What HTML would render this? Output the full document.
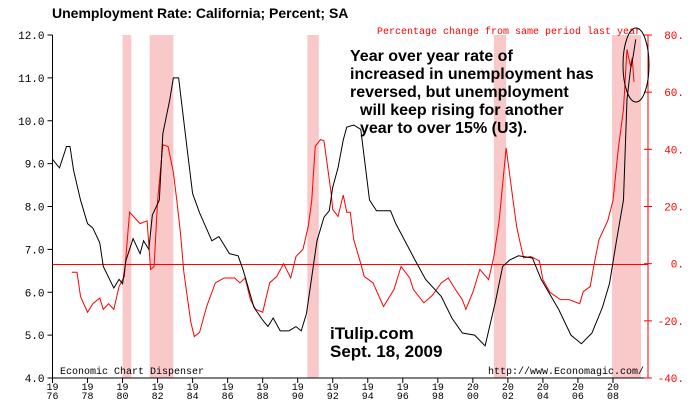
<!DOCTYPE html>
<html><head><meta charset="utf-8">
<style>
html,body{margin:0;padding:0;background:#fff;}
svg{display:block;}
.mono{font-family:"Liberation Mono","DejaVu Sans Mono",monospace;}
.sans{font-family:"Liberation Sans","DejaVu Sans",sans-serif;}
</style></head>
<body>
<svg id="chart" width="700" height="400" viewBox="0 0 700 400" xmlns="http://www.w3.org/2000/svg">
<rect width="700" height="400" fill="#fff"/>
<g id="bands"></g>
<g id="axes"></g>
<g id="series"></g>
<text x="52" y="18" class="sans" font-size="14" font-weight="bold">Unemployment Rate: California; Percent; SA</text>
<text x="377" y="34" class="mono" font-size="10" fill="#f00">Percentage change from same period last year</text>
<g class="sans" font-size="16" font-weight="bold" fill="#000">
<text x="350" y="61">Year over year rate of</text>
<text x="350" y="79">increased in unemployment has</text>
<text x="350" y="97">reversed, but unemployment</text>
<text x="360" y="115">will keep rising for another</text>
<text x="360" y="133">year to over 15% (U3).</text>
</g>
<ellipse cx="636" cy="65" rx="13" ry="37" fill="none" stroke="#000" stroke-width="1"/>
<g class="sans" font-size="17" font-weight="bold">
<text x="330" y="339">iTulip.com</text>
<text x="330" y="357">Sept. 18, 2009</text>
</g>
<text x="60" y="374" class="mono" font-size="10">Economic Chart Dispenser</text>
<text x="488" y="374" class="mono" font-size="10">http://www.Economagic.com/</text>
</svg>
<script>
const rateYears=[1976.0,1976.4,1976.8,1977.0,1977.2,1977.6,1978.0,1978.3,1978.7,1978.9,1979.5,1979.8,1980.0,1980.2,1980.6,1981.0,1981.2,1981.5,1981.7,1982.1,1982.3,1982.7,1982.9,1983.2,1983.7,1984.0,1984.4,1985.1,1985.5,1986.1,1986.6,1986.9,1987.5,1988.0,1988.3,1988.6,1989.0,1989.5,1989.9,1990.2,1990.5,1991.1,1991.5,1991.8,1992.0,1992.3,1992.6,1992.8,1993.2,1993.6,1994.1,1994.5,1995.3,1995.6,1996.7,1997.3,1998.2,1998.8,1999.4,2000.1,2000.7,2001.3,2001.7,2002.1,2002.6,2003.4,2003.9,2004.9,2005.6,2006.2,2006.8,2007.4,2007.8,2008.2,2008.6,2008.8,2009.0,2009.15,2009.3];
const rateValues=[9.1,8.9,9.4,9.4,8.85,8.15,7.6,7.5,7.15,6.6,6.1,6.3,6.2,6.75,7.25,6.9,7.2,7.0,7.8,8.15,9.7,10.5,11.0,11.0,9.3,8.3,7.85,7.2,7.3,6.9,6.85,6.5,5.65,5.35,5.2,5.4,5.1,5.1,5.2,5.1,5.5,7.2,7.75,7.9,8.45,8.9,9.55,9.85,9.9,9.8,8.15,7.9,7.9,7.6,6.75,6.3,5.9,5.4,5.05,5.0,4.75,5.8,6.6,6.75,6.85,6.8,6.3,5.6,5.0,4.8,5.05,5.65,6.2,7.2,8.15,10.5,11.2,11.5,11.9];
const chgYears=[1977.1,1977.4,1977.6,1978.0,1978.3,1978.7,1978.9,1979.2,1979.5,1979.8,1980.1,1980.4,1981.0,1981.4,1981.6,1981.8,1982.0,1982.3,1982.6,1982.9,1983.1,1983.3,1983.5,1983.9,1984.1,1984.4,1984.8,1985.1,1985.3,1985.8,1986.4,1986.7,1987.0,1987.3,1987.6,1988.0,1988.4,1988.8,1989.2,1989.6,1989.9,1990.3,1990.6,1990.8,1991.0,1991.3,1991.5,1991.7,1991.9,1992.0,1992.3,1992.6,1992.8,1993.0,1993.2,1993.6,1993.8,1994.3,1994.9,1995.5,1995.9,1996.4,1996.6,1997.2,1997.7,1998.2,1998.6,1999.0,1999.4,1999.6,2000.0,2000.4,2000.9,2001.2,2001.5,2001.9,2002.3,2002.5,2002.7,2002.9,2003.3,2003.8,2004.0,2004.4,2005.0,2005.5,2006.1,2006.3,2006.7,2006.9,2007.2,2007.7,2008.0,2008.3,2008.6,2008.8,2009.0,2009.1,2009.2];
const chgValues=[-3,-3,-11.5,-17,-14,-12,-16,-14,-16,-8,-4.5,18,14,15,-2,-1,22,41.6,41,32,22,11,-3,-20.6,-25.5,-24,-15,-10,-6.7,-5,-5,-6.7,-5,-12.6,-16,-17,-6.7,-4.5,0,-5,2.5,5,13,22,41,43.4,43,34,25,19,16.5,24,18,18,8.4,0,-4.5,-6.7,-15,-9,-1,-5,-9,-13.7,-11,-6.7,-5,-9,-12.6,-16,-10,-2,-5.6,2.5,15,40.5,22,13,7.3,2,2.5,1,-5.6,-10,-12.6,-12.6,-14,-9.8,-8,-1,8.4,15,22,40,54,75,69,72,63.6];
const recessionStarts=[1980.0,1981.55,1990.55,2001.2,2007.95];
const recessionEnds=[1980.5,1982.9,1991.2,2001.9,2009.6];
const leftTicks=["4.0","5.0","6.0","7.0","8.0","9.0","10.0","11.0","12.0"];
const rightTicks=["-40.","-20.","0.","20.","40.","60.","80."];
const xTickYears=[1976,1978,1980,1982,1984,1986,1988,1990,1992,1994,1996,1998,2000,2002,2004,2006,2008];

const X0=52.5,X1=648,T0=1976,T1=2010,YT=35,YB=378;
const xs=y=>X0+(y-T0)*(X1-X0)/(T1-T0);
const yL=v=>YB-(v-4)*(YB-YT)/8;
const yR=v=>YB-(v+40)*(YB-YT)/120;
const NS="http://www.w3.org/2000/svg";
function mk(tag,attrs,parent){const e=document.createElementNS(NS,tag);for(const k in attrs)e.setAttribute(k,attrs[k]);parent.appendChild(e);return e;}
const bands=document.getElementById('bands'),axes=document.getElementById('axes'),series=document.getElementById('series');

for(let i=0;i<recessionStarts.length;i++){
  const r=mk('rect',{x:xs(recessionStarts[i]),y:YT,width:xs(recessionEnds[i])-xs(recessionStarts[i]),height:YB-YT,fill:'#f9c8c8'},bands);
  
  
}
let l=mk('line',{x1:X0,y1:YT,x2:X0,y2:YB,stroke:'#000'},axes);


l=mk('line',{x1:X0,y1:YB,x2:X1,y2:YB,stroke:'#000'},axes);


l=mk('line',{x1:X1,y1:YT,x2:X1,y2:YB,stroke:'#f00'},axes);


l=mk('line',{x1:X0,y1:Math.round(yR(0))+0.5,x2:X1,y2:Math.round(yR(0))+0.5,stroke:'#f00'},axes);



leftTicks.forEach(t=>{const v=parseFloat(t),y=yL(v);
  mk('line',{x1:X0-5,y1:y,x2:X0,y2:y,stroke:'#000'},axes);
  const tx=mk('text',{x:X0-8,y:y+4,'text-anchor':'end','font-size':'11',class:'mono'},axes);
  tx.textContent=t;
  
  
});
rightTicks.forEach(t=>{const v=parseFloat(t),y=yR(v);
  mk('line',{x1:X1-4,y1:y,x2:X1+4,y2:y,stroke:'#f00'},axes);
  const tx=mk('text',{x:X1+36,y:y+4,'text-anchor':'end','font-size':'11',fill:'#f00',class:'mono'},axes);
  tx.textContent=t;
  
  
});
xTickYears.forEach(yr=>{const x=xs(yr);
  mk('line',{x1:x,y1:YB,x2:x,y2:YB+5,stroke:'#000'},axes);
  const tx=mk('text',{x:x,y:390,'text-anchor':'middle','font-size':'10',class:'mono'},axes);
  tx.textContent=String(yr).slice(0,2);
  
  
  const tx2=mk('text',{x:x,y:399,'text-anchor':'middle','font-size':'10',class:'mono'},axes);
  tx2.textContent=String(yr).slice(2);
  
  
});
const redPath=mk('polyline',{points:chgYears.map((y,i)=>xs(y)+','+yR(chgValues[i])).join(' '),fill:'none',stroke:'#f00','stroke-width':'1'},series);


const blackPath=mk('polyline',{points:rateYears.map((y,i)=>xs(y)+','+yL(rateValues[i])).join(' '),fill:'none',stroke:'#000','stroke-width':'1'},series);


</script>
</body></html>
